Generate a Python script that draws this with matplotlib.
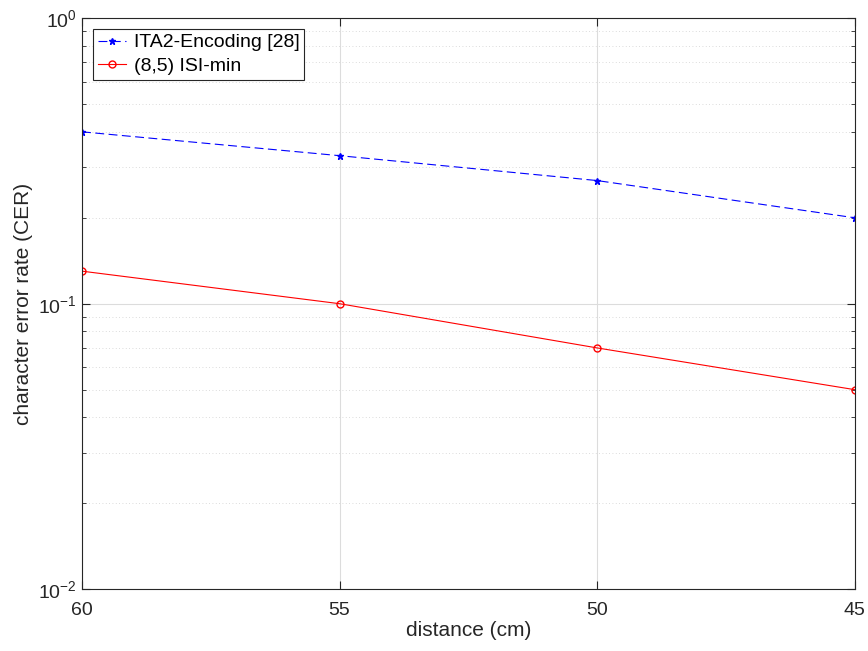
import matplotlib
matplotlib.use('Agg')
import matplotlib.pyplot as plt
from matplotlib.ticker import LogLocator, NullFormatter, FuncFormatter
import numpy as np

plt.rcParams['font.family'] = ['Liberation Sans', 'DejaVu Sans']
plt.rcParams['mathtext.default'] = 'regular'

distance = [60, 55, 50, 45]
ita2 = [0.40, 0.33, 0.27, 0.20]
isimin = [0.13, 0.10, 0.07, 0.05]

fig = plt.figure(figsize=(8.68, 6.51), dpi=100)
ax = fig.add_axes([0.0945, 0.095, 0.89, 0.877])

ax.semilogy(distance, ita2, linestyle=(0, (8, 4)), color='blue', marker='*', markersize=5,
            linewidth=0.8, label='ITA2-Encoding [28]')
ax.semilogy(distance, isimin, '-', color='red', marker='o', markersize=5,
            markerfacecolor='none', linewidth=0.8, label='(8,5) ISI-min')

ax.set_xlim(60, 45)
ax.set_ylim(1e-2, 1e0)
ax.set_xticks(distance)
ax.yaxis.set_major_locator(LogLocator(base=10, numticks=10))
ax.yaxis.set_major_formatter(FuncFormatter(lambda v, p: '10$^{%d}$' % int(round(np.log10(v)))))
ax.yaxis.set_minor_locator(LogLocator(base=10, subs=range(2, 10), numticks=20))
ax.yaxis.set_minor_formatter(NullFormatter())

ax.grid(True, which='major', color='#dcdcdc', linewidth=0.8, linestyle='-')
ax.grid(True, which='minor', axis='y', color='#d0d0d0', linewidth=0.6, linestyle=(0, (1, 3)))
ax.set_axisbelow(True)

ax.tick_params(which='both', direction='in', top=True, right=True, labelsize=14, colors='#262626')
ax.tick_params(which='major', length=6)
ax.tick_params(which='minor', length=3)
ax.tick_params(axis='x', pad=9)
for s in ax.spines.values():
    s.set_color('#262626')
    s.set_linewidth(0.8)

ax.set_xlabel('distance (cm)', fontsize=15, color='#262626', labelpad=2)
ax.set_ylabel('character error rate (CER)', fontsize=15, color='#262626', labelpad=4)

leg = ax.legend(loc='upper left', fontsize=14, fancybox=False, framealpha=1,
                edgecolor='#262626', borderaxespad=0.55, handlelength=1.45,
                handletextpad=0.4, borderpad=0.25, labelspacing=0.3)
leg.get_frame().set_linewidth(0.8)

fig.savefig('out.png', dpi=100)
